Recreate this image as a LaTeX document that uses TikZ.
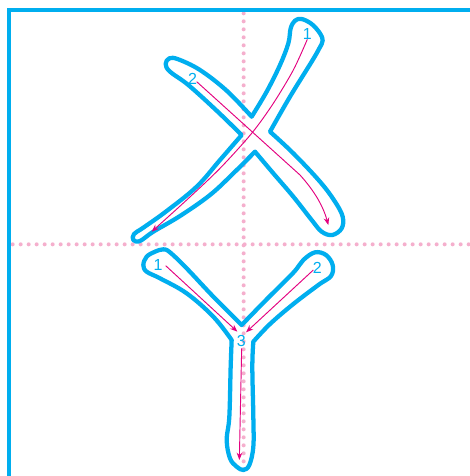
\documentclass[tikz,border=0pt]{standalone}
\usepackage{fontspec}
\setmainfont{Liberation Sans}
\usetikzlibrary{arrows.meta}
\definecolor{frameblue}{HTML}{00AEEF}
\definecolor{dotpink}{HTML}{F5AFCD}
\definecolor{arrowmag}{HTML}{E4007F}
\tikzset{
  frameline/.style={frameblue, line width=3pt},
  guide/.style={dotpink, line width=3pt, line cap=round, dash pattern=on 0pt off 6pt},
  outline/.style={frameblue, line width=3.2pt, line join=round},
  strokearrow/.style={arrowmag, line width=0.7pt, -{Stealth[length=5.5pt,width=4.2pt]}},
  num/.style={text=frameblue, font=\fontsize{12}{14}\selectfont, inner sep=0pt}
}
\begin{document}
\begin{tikzpicture}[x=0.25pt,y=-0.25pt]
\useasboundingbox (0,0) rectangle (1410,1428);
\fill[white] (0,0) rectangle (1410,1428);
% guide lines
\draw[guide] (731,40) -- (731,1428);
\draw[guide] (38,733) -- (1410,733);
% frame
\draw[frameline] (1410,30) -- (27,30) -- (27,1428);
% outline of upper character
\draw[outline]
  plot[smooth,tension=0.6] coordinates {(755,350) (800,275) (840,195) (865,130) (872,85) (885,62) (905,57) (935,72) (960,100) (968,122) (958,145) (935,185) (870,290) (810,395)}
  -- plot[smooth,tension=0.6] coordinates {(810,395) (880,460) (960,545) (1005,605) (1028,650) (1025,685) (997,705) (965,695) (935,660) (880,590) (820,520) (765,455)}
  -- plot[smooth,tension=0.6] coordinates {(765,455) (700,520) (630,585) (540,648) (460,695) (420,723) (400,720) (402,702) (430,683) (500,633) (590,560) (660,480) (725,405)}
  -- plot[smooth,tension=0.6] coordinates {(725,405) (650,332) (565,255) (510,215) (497,192) (508,175) (535,178) (600,210) (680,272) (755,350)}
  -- cycle;
% outline of lower character
\draw[outline]
  plot[smooth,tension=0.6] coordinates {(725,975) (640,890) (560,805) (510,757) (490,748) (465,755) (440,770) (430,795) (440,815) (480,835) (560,880) (640,950) (695,1020)}
  -- plot[smooth,tension=0.6] coordinates {(695,1020) (692,1100) (688,1250) (680,1320) (690,1375) (710,1400) (730,1410) (748,1395) (760,1340) (760,1250) (757,1100) (760,1025)}
  -- plot[smooth,tension=0.6] coordinates {(760,1025) (810,972) (880,912) (955,855) (993,828) (998,795) (978,765) (945,757) (910,780) (880,818) (800,898) (725,975)}
  -- cycle;
% stroke arrows
\draw[strokearrow] plot[smooth] coordinates {(922,118) (880,210) (820,310) (755,400) (660,505) (560,600) (455,695)};
\coordinate (b1s) at (590,245); \coordinate (b1e) at (985,675);
\draw[strokearrow] (b1s) -- (900,525) .. controls (945,575) and (970,620) .. (b1e);
\coordinate (a1s) at (497,797); \coordinate (a1e) at (712,995);
\coordinate (a2s) at (940,810); \coordinate (a2e) at (738,997);
\coordinate (a3s) at (725,1045); \coordinate (a3e) at (718,1380);
\draw[strokearrow] (a1s) -- (a1e);
\draw[strokearrow] (a2s) -- (a2e);
\draw[strokearrow] (a3s) -- (a3e);
% numbers
\node[num] (n1) at (922,103) {1};
\node[num] (n2) at (578,237) {2};
\node[num] (m1) at (474,795) {1};
\node[num] (m2) at (952,805) {2};
\node[num] (m3) at (724,1022) {3};
\end{tikzpicture}
\end{document}
